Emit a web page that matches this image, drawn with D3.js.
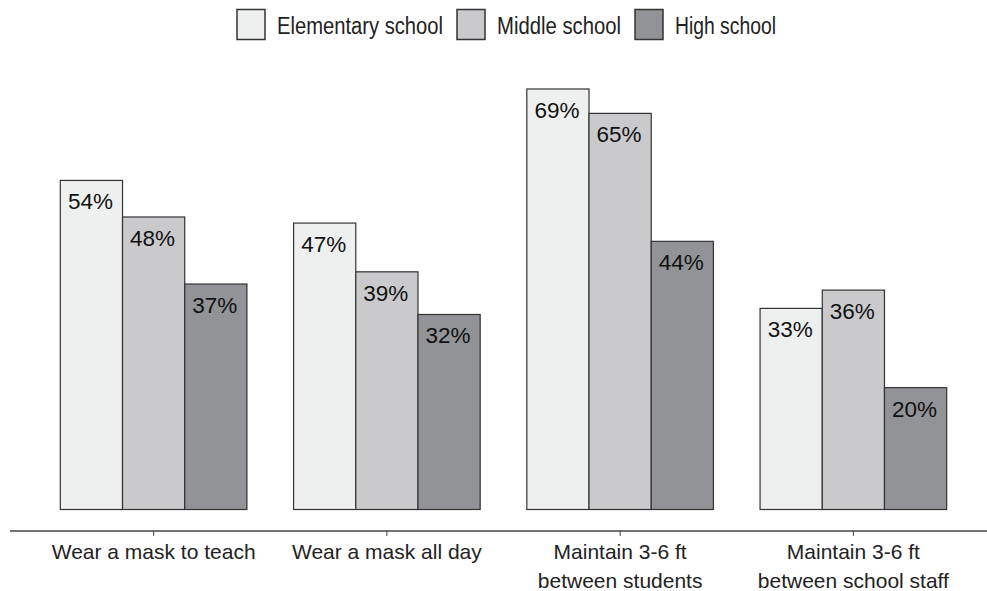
<!DOCTYPE html>
<html><head><meta charset="utf-8">
<script src="https://cdn.jsdelivr.net/npm/d3@7"></script>
<style>body{margin:0;background:#fff}svg{display:block}</style>
</head><body>
<svg id="c" width="987" height="591"></svg>
<script>
const categories = [["Wear a mask to teach"],["Wear a mask all day"],["Maintain 3-6 ft","between students"],["Maintain 3-6 ft","between school staff"]];
const seriesNames = ["Elementary school","Middle school","High school"];
const elementary = [54,47,69,33];
const middle = [48,39,65,36];
const high = [37,32,44,20];
const colors = ["#eef0ef","#cacacc","#929396"];
const series = [elementary, middle, high];

const svg = d3.select("#c");
const font = "'Liberation Sans', Arial, sans-serif";
const x0 = d3.scaleBand().domain(d3.range(categories.length)).range([37, 970]).paddingInner(0.2).paddingOuter(0.1);
const x1 = d3.scaleBand().domain(d3.range(3)).range([0, x0.bandwidth()]);
const y = d3.scaleLinear().domain([0, 69]).range([509.5, 89]);

const g = svg.append("g");
categories.forEach((c, i) => {
  series.forEach((s, j) => {
    const bx = x0(i) + x1(j), v = s[i];
    g.append("rect").attr("x", bx).attr("y", y(v)).attr("width", x1.bandwidth()).attr("height", y(0) - y(v))
      .attr("fill", colors[j]).attr("stroke", "#333").attr("stroke-width", 1.2);
    g.append("text").attr("x", bx + x1.bandwidth()/2 - 1).attr("y", y(v) + 29).attr("text-anchor", "middle")
      .attr("font-family", font).attr("font-size", 22.5).attr("fill", "#111").text(v + "%");
  });
});

// axis
svg.append("line").attr("x1", 10).attr("x2", 987).attr("y1", 531).attr("y2", 531).attr("stroke", "#444").attr("stroke-width", 1.5);
categories.forEach((c, i) => {
  const cx = x0(i) + x0.bandwidth()/2;
  svg.append("line").attr("x1", cx).attr("x2", cx).attr("y1", 531).attr("y2", 536).attr("stroke", "#444");
  c.forEach((line, k) => {
    svg.append("text").attr("x", cx).attr("y", 559 + k*28.5).attr("text-anchor", "middle")
      .attr("font-family", font).attr("font-size", 21).attr("fill", "#222").text(line);
  });
});

// legend
const legX = [237, 457, 635];
const legLen = [166, 124, 101];
seriesNames.forEach((n, j) => {
  svg.append("rect").attr("x", legX[j]).attr("y", 9.5).attr("width", 28).attr("height", 30)
    .attr("fill", colors[j]).attr("stroke", "#333").attr("stroke-width", 1.5);
  svg.append("text").attr("x", legX[j] + 40).attr("y", 34).attr("font-family", font).attr("font-size", 23.5)
    .attr("textLength", legLen[j]).attr("lengthAdjust", "spacingAndGlyphs")
    .attr("fill", "#222").text(n);
});
</script>
</body></html>
